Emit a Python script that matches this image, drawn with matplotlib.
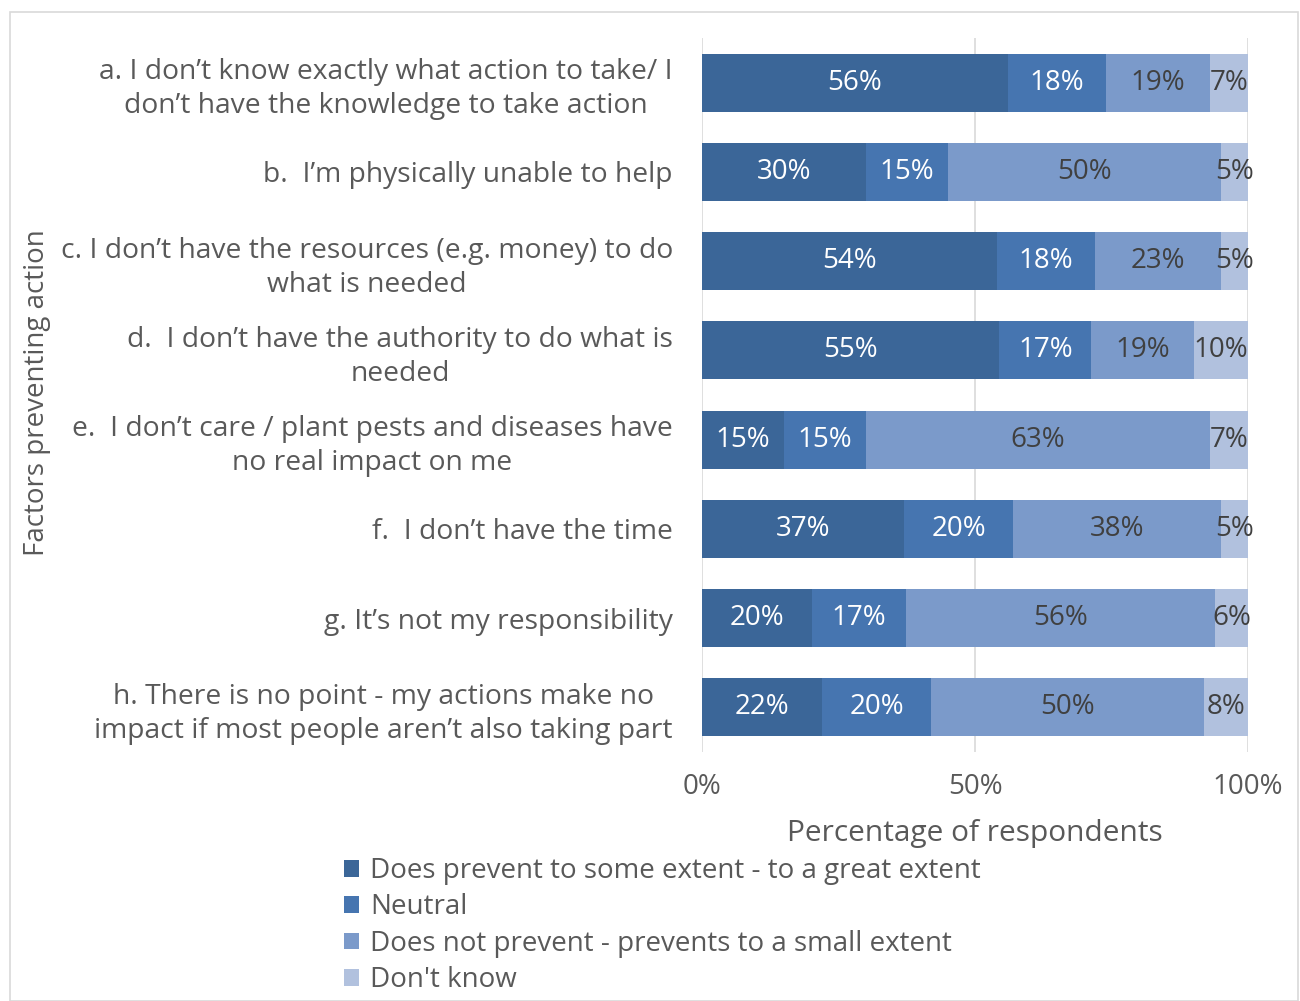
import matplotlib
matplotlib.use("Agg")
import matplotlib.pyplot as plt
from matplotlib.patches import Rectangle, Patch
import numpy as np

plt.rcParams['font.family'] = ['Open Sans', 'DejaVu Sans']

categories = [
    "a. I don\u2019t know exactly what action to take/ I\ndon\u2019t have the knowledge to take action",
    "b.  I\u2019m physically unable to help",
    "c. I don\u2019t have the resources (e.g. money) to do\nwhat is needed",
    "d.  I don\u2019t have the authority to do what is\nneeded",
    "e.  I don\u2019t care / plant pests and diseases have\nno real impact on me",
    "f.  I don\u2019t have the time",
    "g. It\u2019s not my responsibility",
    "h. There is no point - my actions make no\nimpact if most people aren\u2019t also taking part",
]
series_names = [
    "Does prevent to some extent - to a great extent",
    "Neutral",
    "Does not prevent - prevents to a small extent",
    "Don't know",
]
prevent = [56, 30, 54, 55, 15, 37, 20, 22]
neutral = [18, 15, 18, 17, 15, 20, 17, 20]
not_prevent = [19, 50, 23, 19, 63, 38, 56, 50]
dont_know = [7, 5, 5, 10, 7, 5, 6, 8]
x_ticks = [0, 50, 100]
x_tick_labels = ["0%", "50%", "100%"]

colors = ["#3b6698", "#4675b0", "#7b9aca", "#b1c1de"]
label_colors = ["white", "white", "#404040", "#404040"]
text_gray = "#595959"

fig = plt.figure(figsize=(13, 10.01), dpi=100)
ax = fig.add_axes([702 / 1300, 1 - 752 / 1001, 546 / 1300, 714 / 1001])

data = np.array([prevent, neutral, not_prevent, dont_know], dtype=float)
totals = data.sum(axis=0)
shares = data / totals * 100
y = np.arange(len(categories))
left = np.zeros(len(categories))
for i in range(4):
    bars = ax.barh(y, shares[i], left=left, height=0.65, color=colors[i],
                   label=series_names[i], zorder=2)
    for j, b in enumerate(bars):
        cx = b.get_x() + b.get_width() / 2
        ax.text(cx, y[j], f"{int(data[i, j])}%", ha="center", va="center",
                fontsize=20, color=label_colors[i], zorder=3)
    left += shares[i]

ax.set_ylim(len(categories) - 0.5, -0.5)
ax.set_xlim(0, 100)
ax.set_yticks(y)
ax.set_yticklabels(categories, fontsize=20.3, color=text_gray,
                   multialignment="center", linespacing=1.3)
ax.set_xticks(x_ticks)
ax.set_xticklabels(x_tick_labels, fontsize=20, color=text_gray)
ax.tick_params(axis="both", length=0)
ax.tick_params(axis="y", pad=21)
ax.tick_params(axis="x", pad=15)
for s in ax.spines.values():
    s.set_visible(False)
ax.grid(axis="x", color="#d9d9d9", linewidth=1.2, zorder=0)
ax.set_axisbelow(True)
ax.set_xlabel("Percentage of respondents", fontsize=21.5, color=text_gray,
              labelpad=13)

fig.text(37 / 1300, 1 - 393 / 1001, "Factors preventing action", rotation=90,
         ha="center", va="center", fontsize=20, color=text_gray)

handles = [Patch(facecolor=c) for c in colors]
leg = fig.legend(handles, series_names, loc="upper left",
                 bbox_to_anchor=(333 / 1300, 1 - 846 / 1001), frameon=False,
                 fontsize=20, handlelength=0.55, handleheight=0.55,
                 handletextpad=0.4, labelspacing=0.3, borderaxespad=0)
for t in leg.get_texts():
    t.set_color(text_gray)

fig.patches.append(Rectangle((10 / 1300, 0), 1288 / 1300, 1 - 12 / 1001,
                             transform=fig.transFigure, fill=False,
                             edgecolor="#d9d9d9", linewidth=1.2))

fig.savefig("out.png", dpi=100)
